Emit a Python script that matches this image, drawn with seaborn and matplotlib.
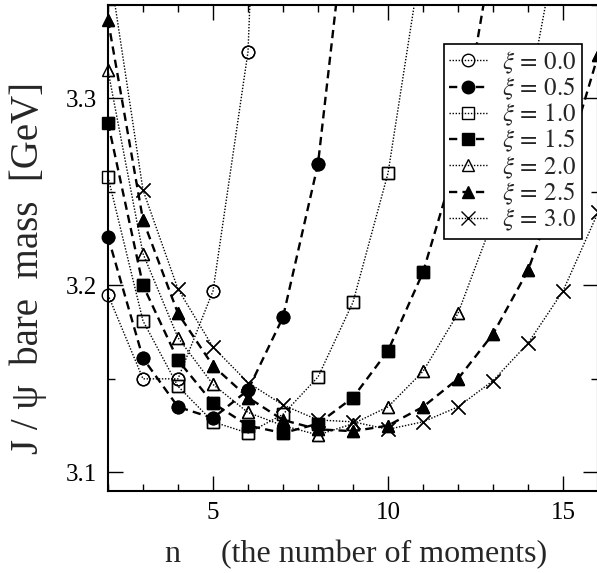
import pandas as pd
import matplotlib
matplotlib.use("Agg")
import matplotlib.pyplot as plt
from matplotlib.ticker import MultipleLocator, FormatStrFormatter
import seaborn as sns

# --- J/psi bare mass vs. number of moments, for several xi values ---
xi_labels = ["0.0", "0.5", "1.0", "1.5", "2.0", "2.5", "3.0"]

n_xi00 = [2, 3, 4, 5, 6, 7]
m_xi00 = [3.195, 3.150, 3.150, 3.197, 3.325, 3.80]

n_xi05 = [2, 3, 4, 5, 6, 7, 8, 9]
m_xi05 = [3.226, 3.161, 3.135, 3.129, 3.144, 3.183, 3.265, 3.43]

n_xi10 = [2, 3, 4, 5, 6, 7, 8, 9, 10, 11]
m_xi10 = [3.258, 3.181, 3.146, 3.127, 3.121, 3.131, 3.151, 3.191, 3.260, 3.38]

n_xi15 = [2, 3, 4, 5, 6, 7, 8, 9, 10, 11, 12, 13]
m_xi15 = [3.287, 3.200, 3.160, 3.137, 3.125, 3.121, 3.126, 3.140, 3.165, 3.207, 3.270, 3.38]

n_xi20 = [2, 3, 4, 5, 6, 7, 8, 9, 10, 11, 12, 13, 14, 15]
m_xi20 = [3.315, 3.217, 3.172, 3.147, 3.132, 3.125, 3.120, 3.126, 3.135, 3.154, 3.185, 3.235, 3.300, 3.40]

n_xi25 = [2, 3, 4, 5, 6, 7, 8, 9, 10, 11, 12, 13, 14, 15, 16]
m_xi25 = [3.342, 3.235, 3.185, 3.157, 3.140, 3.128, 3.123, 3.122, 3.125, 3.135, 3.150, 3.174, 3.208, 3.260, 3.323]

n_xi30 = [2, 3, 4, 5, 6, 7, 8, 9, 10, 11, 12, 13, 14, 15, 16]
m_xi30 = [3.375, 3.251, 3.198, 3.167, 3.148, 3.136, 3.128, 3.127, 3.123, 3.127, 3.135, 3.149, 3.169, 3.197, 3.239]

series_n = [n_xi00, n_xi05, n_xi10, n_xi15, n_xi20, n_xi25, n_xi30]
series_m = [m_xi00, m_xi05, m_xi10, m_xi15, m_xi20, m_xi25, m_xi30]

# long table for seaborn
frames = []
for lab, ns, ms in zip(xi_labels, series_n, series_m):
    frames.append(pd.DataFrame({"xi": lab, "n": ns, "mass": ms}))
df = pd.concat(frames, ignore_index=True)

# --- style ---
sns.set_style("ticks")
plt.rcParams["font.family"] = ["Liberation Serif", "DejaVu Serif"]
plt.rcParams["mathtext.fontset"] = "stix"

dotted = (0, (1, 1.2))
dashed = (0, (3.5, 2.2))
styles = {
    "0.0": dict(marker="o", mfc="none", ls=dotted, lw=1.0),
    "0.5": dict(marker="o", mfc="black", ls=dashed, lw=1.7),
    "1.0": dict(marker="s", mfc="none", ls=dotted, lw=1.0),
    "1.5": dict(marker="s", mfc="black", ls=dashed, lw=1.7),
    "2.0": dict(marker="^", mfc="none", ls=dotted, lw=1.0),
    "2.5": dict(marker="^", mfc="black", ls=dashed, lw=1.7),
    "3.0": dict(marker="x", mfc="black", ls=dotted, lw=1.0),
}
msizes = {"o": 9, "s": 8.5, "^": 9, "x": 10}

fig = plt.figure(figsize=(5.97, 5.73), dpi=100)
ax = fig.add_axes([108 / 597, 82 / 573, 490 / 597, 486 / 573])

for lab in xi_labels:
    sub = df[df["xi"] == lab]
    st = styles[lab]
    sns.lineplot(data=sub, x="n", y="mass", ax=ax, color="black",
                 linestyle=st["ls"], linewidth=st["lw"], marker=st["marker"],
                 markersize=msizes[st["marker"]], markerfacecolor=st["mfc"],
                 markeredgecolor="black", markeredgewidth=1.0,
                 label=r"$\xi\,=\,%s$" % lab, errorbar=None, sort=True)
    # markers on the frame edges are drawn in full
    ax.plot(sub["n"], sub["mass"], linestyle="none", marker=st["marker"],
            markersize=msizes[st["marker"]], markerfacecolor=st["mfc"],
            markeredgecolor="black", markeredgewidth=1.0, color="black",
            clip_on=False, zorder=3)

ax.set_xlim(2, 16)
ax.set_ylim(3.09, 3.35)
ax.xaxis.set_major_locator(MultipleLocator(5))
ax.xaxis.set_minor_locator(MultipleLocator(1))
ax.yaxis.set_major_locator(MultipleLocator(0.1))
ax.yaxis.set_minor_locator(MultipleLocator(0.05))
ax.yaxis.set_major_formatter(FormatStrFormatter("%.1f"))
ax.tick_params(which="both", direction="in", top=True, right=True,
               labelsize=18, width=1.0, pad=8, colors="black")
ax.tick_params(which="major", length=11)
ax.tick_params(which="minor", length=5)
for sp in ax.spines.values():
    sp.set_linewidth(1.5)
    sp.set_color("black")

ax.set_xlabel("n     (the number of moments)", fontsize=23)
ax.set_ylabel("J / \u03c8  bare  mass  [GeV]", fontsize=28)
ax.xaxis.set_label_coords(0.506, -0.101)
ax.yaxis.set_label_coords(-0.125, 0.459)

leg = ax.legend(loc="upper right", bbox_to_anchor=(0.967, 0.920),
                borderaxespad=0, fontsize=18, frameon=True, fancybox=False,
                framealpha=1, edgecolor="black", numpoints=1,
                handlelength=1.5, handletextpad=0.6, labelspacing=0.0,
                borderpad=0.22)
leg.get_frame().set_linewidth(1.2)

fig.savefig("out.png", dpi=100)
